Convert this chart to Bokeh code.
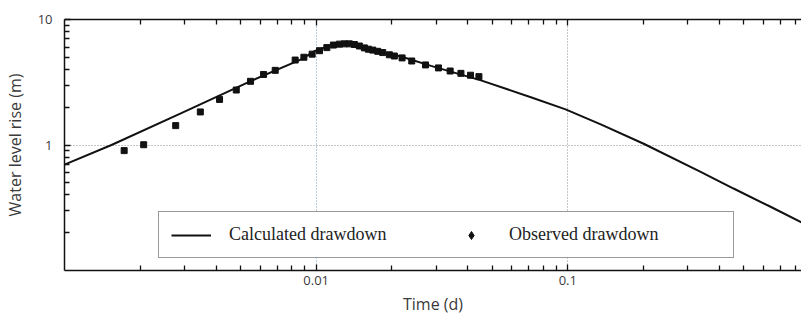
from bokeh.plotting import figure
from bokeh.models import (LogAxis, FixedTicker, Legend, LegendItem, Grid, Range1d)
from bokeh.embed import file_html
from bokeh.resources import INLINE

# Calculated drawdown (time in days, water level rise in m)
calc_t = [0.001, 0.001537, 0.002912, 0.005522, 0.008719, 0.0099, 0.01147, 0.01292,
          0.01402, 0.01579, 0.01811, 0.02175, 0.0286, 0.04517, 0.07131, 0.098,
          0.1352, 0.2002, 0.3372, 0.4557, 0.6393, 0.9127]
calc_s = [0.697, 1.0, 1.794, 3.245, 4.818, 5.623, 6.234, 6.452,
          6.397, 5.971, 5.528, 5.073, 4.272, 3.273, 2.403, 1.921,
          1.459, 1.023, 0.611, 0.450, 0.322, 0.224]

# Observed drawdown
obs_t = [0.001726, 0.002064, 0.002766, 0.003465, 0.004132, 0.004815, 0.005486, 0.00618,
         0.006876, 0.008253, 0.008938, 0.009641, 0.01031, 0.01103, 0.01171, 0.01237,
         0.01295, 0.01355, 0.01419, 0.01485, 0.01555, 0.01613, 0.01679, 0.01757,
         0.01839, 0.01954, 0.02045, 0.02195, 0.02398, 0.0272, 0.03062, 0.03408,
         0.03761, 0.04107, 0.04434]
obs_s = [0.902, 1.005, 1.427, 1.834, 2.308, 2.742, 3.217, 3.647,
         3.934, 4.752, 5.004, 5.295, 5.642, 5.971, 6.256, 6.364,
         6.397, 6.397, 6.32, 6.149, 5.941, 5.799, 5.702, 5.577,
         5.453, 5.233, 5.117, 4.943, 4.671, 4.345, 4.114, 3.887,
         3.723, 3.597, 3.506]

x_lim = [0.001, 0.8485]
y_lim = [0.1, 10]
x_major = [0.01, 0.1]
x_minor = [0.002, 0.003, 0.004, 0.005, 0.006, 0.007, 0.008, 0.009,
           0.02, 0.03, 0.04, 0.05, 0.06, 0.07, 0.08, 0.09,
           0.2, 0.3, 0.4, 0.5, 0.6, 0.7, 0.8]
y_major = [1, 10]
y_minor = [0.2, 0.3, 0.4, 0.5, 0.6, 0.7, 0.8, 0.9, 2, 3, 4, 5, 6, 7, 8, 9]

TXT = "#3a3a3a"
AX = "#111111"

p = figure(width=801, height=317, x_axis_type="log", y_axis_type="log",
           x_range=Range1d(*x_lim), y_range=Range1d(*y_lim),
           output_backend="svg", toolbar_location=None,
           min_border_left=55, min_border_right=0, min_border_top=19, min_border_bottom=39)
p.outline_line_color = None
p.background_fill_color = "white"
p.border_fill_color = "white"

xt = FixedTicker(ticks=x_major, minor_ticks=x_minor)
yt = FixedTicker(ticks=y_major, minor_ticks=y_minor)

for ax in p.xaxis:
    ax.ticker = xt
    ax.major_label_overrides = {0.01: "0.01", 0.1: "0.1"}
    ax.axis_label = "Time (d)"
for ax in p.yaxis:
    ax.ticker = yt
    ax.major_label_overrides = {1: "1", 10: "10"}
    ax.axis_label = "Water level rise (m)"

top = LogAxis(ticker=xt, major_label_standoff=0)
p.add_layout(top, "above")

for ax in list(p.xaxis) + list(p.yaxis) + [top]:
    ax.axis_line_color = AX
    ax.axis_line_width = 1.5
    ax.major_tick_line_color = AX
    ax.minor_tick_line_color = AX
    ax.major_tick_in = 6
    ax.major_tick_out = 0
    ax.minor_tick_in = 5
    ax.minor_tick_out = 0
    ax.major_tick_line_width = 1.3
    ax.minor_tick_line_width = 1.3
    ax.major_label_text_font = "Open Sans"
    ax.major_label_text_font_size = "13px"
    ax.major_label_text_color = TXT
    ax.axis_label_text_font = "Open Sans"
    ax.axis_label_text_font_size = "16px"
    ax.axis_label_text_font_style = "normal"
    ax.axis_label_text_color = TXT

top.major_label_text_font_size = "1px"
top.major_label_text_alpha = 0

p.xaxis[0].major_label_standoff = 8
p.xaxis[0].axis_label_standoff = 0
p.yaxis[0].major_label_standoff = 12
p.yaxis[0].axis_label_standoff = 9

p.xgrid.visible = False
p.ygrid.ticker = FixedTicker(ticks=[1])
p.ygrid.grid_line_color = "#8a8a8a"
p.ygrid.grid_line_dash = "1 2"
p.ygrid.grid_line_width = 1

g1 = Grid(dimension=0, ticker=FixedTicker(ticks=[0.01]), grid_line_color="#6f9db8",
          grid_line_dash="1 2", grid_line_width=1)
g2 = Grid(dimension=0, ticker=FixedTicker(ticks=[0.1]), grid_line_color="#8a8a8a",
          grid_line_dash="1 2", grid_line_width=1)
p.add_layout(g1)
p.add_layout(g2)

line_r = p.line(calc_t, calc_s, line_color="#111111", line_width=2)
p.scatter(obs_t, obs_s, marker="square", size=6, fill_color="#111111", line_color="#111111")
# legend-only renderer (diamond symbol as in the reference legend)
legend_obs = p.scatter(obs_t, obs_s, marker="diamond", size=13,
                       fill_color="#111111", line_color="#111111", visible=False)

legend = Legend(items=[LegendItem(label="Calculated drawdown", renderers=[line_r]),
                       LegendItem(label="Observed drawdown", renderers=[legend_obs])],
                orientation="horizontal", location=(94, 12),
                label_text_font="Liberation Serif", label_text_font_size="18px",
                label_text_color="#222222", label_width=212, label_height=20,
                glyph_width=40, glyph_height=20, label_standoff=18, spacing=10,
                padding=12, margin=0,
                border_line_color="#333333", border_line_width=1.5,
                background_fill_color="white", background_fill_alpha=1.0)
p.add_layout(legend)

open("out.html", "w").write(file_html(p, INLINE))
